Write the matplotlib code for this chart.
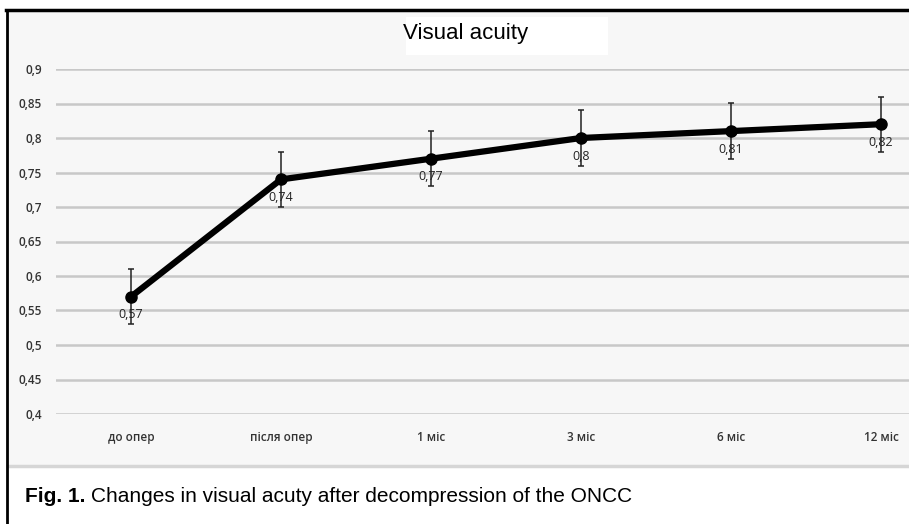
import numpy as np
import matplotlib.pyplot as plt
from matplotlib.patches import Rectangle
from matplotlib.lines import Line2D

# Visual acuity over time (from the reference chart)
periods = ['до опер', 'після опер', '1 міс', '3 міс', '6 міс', '12 міс']
acuity = [0.57, 0.74, 0.77, 0.80, 0.81, 0.82]
acuity_err = [0.04, 0.04, 0.04, 0.04, 0.04, 0.04]
point_labels = ['0,57', '0,74', '0,77', '0,8', '0,81', '0,82']
yticks = [0.4, 0.45, 0.5, 0.55, 0.6, 0.65, 0.7, 0.75, 0.8, 0.85, 0.9]
ytick_labels = ['0,4', '0,45', '0,5', '0,55', '0,6', '0,65', '0,7', '0,75', '0,8', '0,85', '0,9']

W, H = 909, 524
fig = plt.figure(figsize=(W / 100, H / 100), dpi=100)
fig.patch.set_facecolor('white')

def fx(px):
    return px / W

def fy(py):
    return 1 - py / H

# chart panel background, separator and outer frame
fig.add_artist(Rectangle((fx(8), fy(465)), 1, fy(11) - fy(465),
                         transform=fig.transFigure, facecolor='#f7f7f7',
                         edgecolor='none', zorder=0))
fig.add_artist(Line2D([fx(8), 1], [fy(466), fy(466)], transform=fig.transFigure,
                      color='#d6d6d6', lw=2.5, zorder=1))
fig.add_artist(Line2D([fx(7), fx(7)], [0, fy(10)], transform=fig.transFigure,
                      color='black', lw=2, zorder=5))
fig.add_artist(Line2D([fx(6), 1], [fy(10), fy(10)], transform=fig.transFigure,
                      color='black', lw=2.5, zorder=5))

# title in its white box
fig.add_artist(Rectangle((fx(406), fy(55)), fx(608) - fx(406), fy(17) - fy(55),
                         transform=fig.transFigure, facecolor='white',
                         edgecolor='none', zorder=2))
fig.text(fx(466), fy(33), 'Visual acuity', ha='center', va='center',
         fontsize=16, family='Liberation Sans', zorder=3)

# plot area
ax = fig.add_axes([fx(56), fy(414), 1 - fx(56), fy(69) - fy(414)])
ax.set_facecolor('none')
x = np.arange(len(periods))
ax.set_xlim(-0.5, (909 - 131) / 150)
ax.set_ylim(0.4, 0.9)
for s in ax.spines.values():
    s.set_visible(False)

ax.set_yticks(yticks)
ax.set_yticklabels(ytick_labels, family='Open Sans', fontsize=8.5, color='#333333',
                   fontweight='semibold')
ax.set_xticks(x)
ax.set_xticklabels(periods, family='Open Sans', fontsize=8.5, color='#333333',
                   fontweight='semibold')
ax.tick_params(length=0, pad=10)
ax.tick_params(axis='x', pad=12)
ax.grid(axis='y', color='#c8c8c8', lw=1.8)
ax.set_axisbelow(True)

ax.errorbar(x, acuity, yerr=acuity_err, fmt='none', ecolor='#222222',
            elinewidth=1.1, capsize=2.5, capthick=1.1, zorder=3, clip_on=False)
ax.plot(x, acuity, color='black', lw=4.5, marker='o', markersize=8,
        zorder=4, clip_on=False)

for xi, yi, lab in zip(x, acuity, point_labels):
    ax.annotate(lab, (xi, yi), xytext=(0, -13), textcoords='offset points',
                ha='center', va='center', family='Open Sans', fontsize=9,
                color='#222222', zorder=5)

# caption
cap = fig.text(fx(25), fy(496), 'Fig. 1.', ha='left', va='center', fontsize=15,
               family='Liberation Sans', fontweight='bold')
ax.annotate('Changes in visual acuty after decompression of the ONCC',
            xy=(1, 0.5), xycoords=cap, xytext=(4, 0), textcoords='offset points',
            ha='left', va='center', fontsize=15, family='Liberation Sans',
            annotation_clip=False)

fig.savefig('out.png', dpi=100)
